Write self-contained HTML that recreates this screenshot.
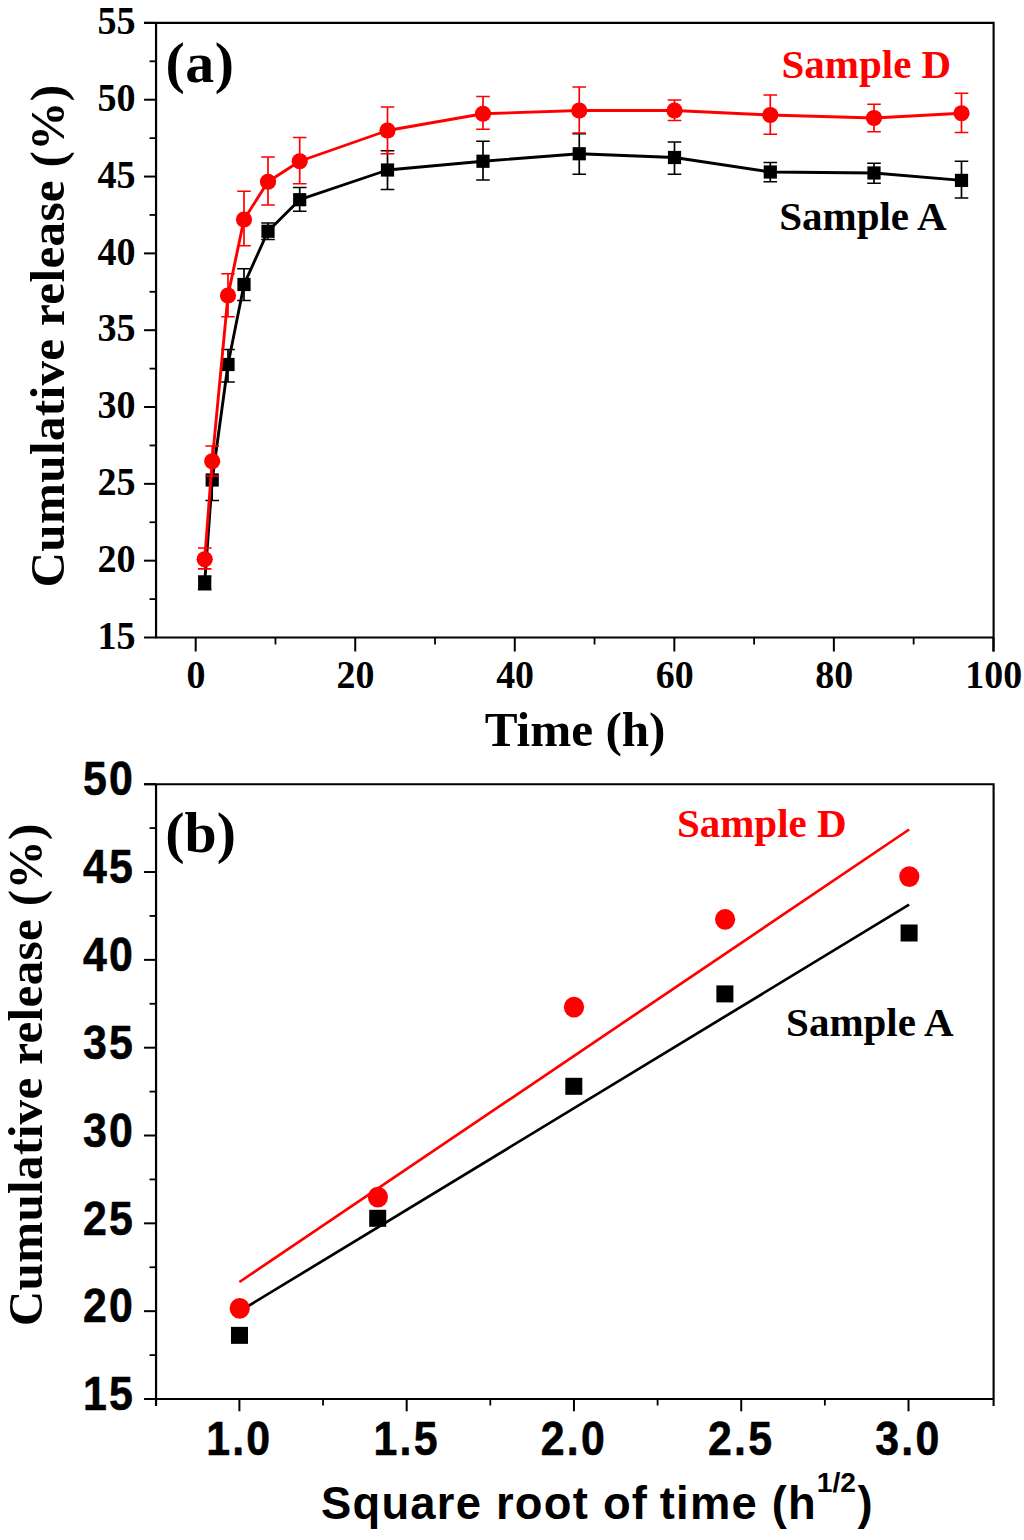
<!DOCTYPE html>
<html><head><meta charset="utf-8"><title>Cumulative release</title>
<style>
html,body{margin:0;padding:0;background:#fff;}
body{width:1024px;height:1540px;overflow:hidden;font-family:"Liberation Serif",serif;}
svg{display:block;}
</style></head><body>
<svg width="1024" height="1540" viewBox="0 0 1024 1540">
<rect width="1024" height="1540" fill="#fff"/>
<path d="M144.05,22.9 H993.6 V651.5" fill="none" stroke="#000" stroke-width="2.1"/>
<path d="M156.05,22.9 V637.5 H993.6" fill="none" stroke="#000" stroke-width="2.2"/>
<line x1="144.05" y1="637.50" x2="156.05" y2="637.50" stroke="#000" stroke-width="2"/>
<text transform="translate(135.60,648.70) scale(0.9700,1)" font-family="Liberation Serif" font-weight="bold" font-size="39.3" text-anchor="end" style="fill:#000">15</text>
<line x1="144.05" y1="560.67" x2="156.05" y2="560.67" stroke="#000" stroke-width="2"/>
<text transform="translate(135.60,571.88) scale(0.9700,1)" font-family="Liberation Serif" font-weight="bold" font-size="39.3" text-anchor="end" style="fill:#000">20</text>
<line x1="144.05" y1="483.85" x2="156.05" y2="483.85" stroke="#000" stroke-width="2"/>
<text transform="translate(135.60,495.05) scale(0.9700,1)" font-family="Liberation Serif" font-weight="bold" font-size="39.3" text-anchor="end" style="fill:#000">25</text>
<line x1="144.05" y1="407.02" x2="156.05" y2="407.02" stroke="#000" stroke-width="2"/>
<text transform="translate(135.60,418.22) scale(0.9700,1)" font-family="Liberation Serif" font-weight="bold" font-size="39.3" text-anchor="end" style="fill:#000">30</text>
<line x1="144.05" y1="330.20" x2="156.05" y2="330.20" stroke="#000" stroke-width="2"/>
<text transform="translate(135.60,341.40) scale(0.9700,1)" font-family="Liberation Serif" font-weight="bold" font-size="39.3" text-anchor="end" style="fill:#000">35</text>
<line x1="144.05" y1="253.38" x2="156.05" y2="253.38" stroke="#000" stroke-width="2"/>
<text transform="translate(135.60,264.57) scale(0.9700,1)" font-family="Liberation Serif" font-weight="bold" font-size="39.3" text-anchor="end" style="fill:#000">40</text>
<line x1="144.05" y1="176.55" x2="156.05" y2="176.55" stroke="#000" stroke-width="2"/>
<text transform="translate(135.60,187.75) scale(0.9700,1)" font-family="Liberation Serif" font-weight="bold" font-size="39.3" text-anchor="end" style="fill:#000">45</text>
<line x1="144.05" y1="99.72" x2="156.05" y2="99.72" stroke="#000" stroke-width="2"/>
<text transform="translate(135.60,110.92) scale(0.9700,1)" font-family="Liberation Serif" font-weight="bold" font-size="39.3" text-anchor="end" style="fill:#000">50</text>
<line x1="144.05" y1="22.90" x2="156.05" y2="22.90" stroke="#000" stroke-width="2"/>
<text transform="translate(135.60,34.10) scale(0.9700,1)" font-family="Liberation Serif" font-weight="bold" font-size="39.3" text-anchor="end" style="fill:#000">55</text>
<line x1="149.55" y1="599.09" x2="156.05" y2="599.09" stroke="#000" stroke-width="1.8"/>
<line x1="149.55" y1="522.26" x2="156.05" y2="522.26" stroke="#000" stroke-width="1.8"/>
<line x1="149.55" y1="445.44" x2="156.05" y2="445.44" stroke="#000" stroke-width="1.8"/>
<line x1="149.55" y1="368.61" x2="156.05" y2="368.61" stroke="#000" stroke-width="1.8"/>
<line x1="149.55" y1="291.79" x2="156.05" y2="291.79" stroke="#000" stroke-width="1.8"/>
<line x1="149.55" y1="214.96" x2="156.05" y2="214.96" stroke="#000" stroke-width="1.8"/>
<line x1="149.55" y1="138.14" x2="156.05" y2="138.14" stroke="#000" stroke-width="1.8"/>
<line x1="149.55" y1="61.31" x2="156.05" y2="61.31" stroke="#000" stroke-width="1.8"/>
<line x1="195.70" y1="637.5" x2="195.70" y2="651.5" stroke="#000" stroke-width="2"/>
<text transform="translate(196.00,688.30) scale(0.9650,1)" font-family="Liberation Serif" font-weight="bold" font-size="39.3" text-anchor="middle" style="fill:#000">0</text>
<line x1="355.24" y1="637.5" x2="355.24" y2="651.5" stroke="#000" stroke-width="2"/>
<text transform="translate(355.54,688.30) scale(0.9650,1)" font-family="Liberation Serif" font-weight="bold" font-size="39.3" text-anchor="middle" style="fill:#000">20</text>
<line x1="514.78" y1="637.5" x2="514.78" y2="651.5" stroke="#000" stroke-width="2"/>
<text transform="translate(515.08,688.30) scale(0.9650,1)" font-family="Liberation Serif" font-weight="bold" font-size="39.3" text-anchor="middle" style="fill:#000">40</text>
<line x1="674.32" y1="637.5" x2="674.32" y2="651.5" stroke="#000" stroke-width="2"/>
<text transform="translate(674.62,688.30) scale(0.9650,1)" font-family="Liberation Serif" font-weight="bold" font-size="39.3" text-anchor="middle" style="fill:#000">60</text>
<line x1="833.86" y1="637.5" x2="833.86" y2="651.5" stroke="#000" stroke-width="2"/>
<text transform="translate(834.16,688.30) scale(0.9650,1)" font-family="Liberation Serif" font-weight="bold" font-size="39.3" text-anchor="middle" style="fill:#000">80</text>
<line x1="993.40" y1="637.5" x2="993.40" y2="651.5" stroke="#000" stroke-width="2"/>
<text transform="translate(993.70,688.30) scale(0.9650,1)" font-family="Liberation Serif" font-weight="bold" font-size="39.3" text-anchor="middle" style="fill:#000">100</text>
<line x1="275.47" y1="637.5" x2="275.47" y2="644.5" stroke="#000" stroke-width="1.8"/>
<line x1="435.01" y1="637.5" x2="435.01" y2="644.5" stroke="#000" stroke-width="1.8"/>
<line x1="594.55" y1="637.5" x2="594.55" y2="644.5" stroke="#000" stroke-width="1.8"/>
<line x1="754.09" y1="637.5" x2="754.09" y2="644.5" stroke="#000" stroke-width="1.8"/>
<line x1="913.63" y1="637.5" x2="913.63" y2="644.5" stroke="#000" stroke-width="1.8"/>
<path d="M204.70,582.65 L212.20,480.00 L228.00,364.50 L244.00,284.50 L268.00,231.25 L299.70,199.70 L387.50,170.00 L483.00,161.25 L579.25,153.75 L674.50,157.50 L770.30,172.00 L874.00,173.00 L961.50,180.40" fill="none" stroke="#000" stroke-width="2.9" stroke-linejoin="round"/>
<path d="M204.70,576.00 V589.60 M197.90,576.00 h13.6 M197.90,589.60 h13.6" fill="none" stroke="#000" stroke-width="1.7"/>
<rect x="198.10" y="576.05" width="13.2" height="13.2" fill="#000"/>
<path d="M212.20,460.00 V500.50 M205.40,460.00 h13.6 M205.40,500.50 h13.6" fill="none" stroke="#000" stroke-width="1.7"/>
<rect x="205.60" y="473.40" width="13.2" height="13.2" fill="#000"/>
<path d="M228.00,349.50 V382.00 M221.20,349.50 h13.6 M221.20,382.00 h13.6" fill="none" stroke="#000" stroke-width="1.7"/>
<rect x="221.40" y="357.90" width="13.2" height="13.2" fill="#000"/>
<path d="M244.00,268.75 V300.50 M237.20,268.75 h13.6 M237.20,300.50 h13.6" fill="none" stroke="#000" stroke-width="1.7"/>
<rect x="237.40" y="277.90" width="13.2" height="13.2" fill="#000"/>
<path d="M268.00,223.00 V239.50 M261.20,223.00 h13.6 M261.20,239.50 h13.6" fill="none" stroke="#000" stroke-width="1.7"/>
<rect x="261.40" y="224.65" width="13.2" height="13.2" fill="#000"/>
<path d="M299.70,187.50 V211.25 M292.90,187.50 h13.6 M292.90,211.25 h13.6" fill="none" stroke="#000" stroke-width="1.7"/>
<rect x="293.10" y="193.10" width="13.2" height="13.2" fill="#000"/>
<path d="M387.50,150.75 V189.50 M380.70,150.75 h13.6 M380.70,189.50 h13.6" fill="none" stroke="#000" stroke-width="1.7"/>
<rect x="380.90" y="163.40" width="13.2" height="13.2" fill="#000"/>
<path d="M483.00,141.25 V180.00 M476.20,141.25 h13.6 M476.20,180.00 h13.6" fill="none" stroke="#000" stroke-width="1.7"/>
<rect x="476.40" y="154.65" width="13.2" height="13.2" fill="#000"/>
<path d="M579.25,133.75 V174.25 M572.45,133.75 h13.6 M572.45,174.25 h13.6" fill="none" stroke="#000" stroke-width="1.7"/>
<rect x="572.65" y="147.15" width="13.2" height="13.2" fill="#000"/>
<path d="M674.50,142.00 V174.25 M667.70,142.00 h13.6 M667.70,174.25 h13.6" fill="none" stroke="#000" stroke-width="1.7"/>
<rect x="667.90" y="150.90" width="13.2" height="13.2" fill="#000"/>
<path d="M770.30,162.50 V181.75 M763.50,162.50 h13.6 M763.50,181.75 h13.6" fill="none" stroke="#000" stroke-width="1.7"/>
<rect x="763.70" y="165.40" width="13.2" height="13.2" fill="#000"/>
<path d="M874.00,163.25 V183.25 M867.20,163.25 h13.6 M867.20,183.25 h13.6" fill="none" stroke="#000" stroke-width="1.7"/>
<rect x="867.40" y="166.40" width="13.2" height="13.2" fill="#000"/>
<path d="M961.50,161.25 V198.00 M954.70,161.25 h13.6 M954.70,198.00 h13.6" fill="none" stroke="#000" stroke-width="1.7"/>
<rect x="954.90" y="173.80" width="13.2" height="13.2" fill="#000"/>
<path d="M204.70,559.30 L212.20,461.30 L228.00,295.50 L244.00,219.50 L268.00,181.75 L299.70,161.25 L387.50,130.50 L483.00,113.75 L579.25,110.50 L674.50,110.50 L770.30,115.00 L874.00,118.00 L961.50,113.25" fill="none" stroke="#ff0000" stroke-width="2.9" stroke-linejoin="round"/>
<path d="M204.70,548.00 V568.90 M197.90,548.00 h13.6 M197.90,568.90 h13.6" fill="none" stroke="#ff0000" stroke-width="1.7"/>
<circle cx="204.70" cy="559.30" r="8.1" fill="#ff0000"/>
<path d="M212.20,446.00 V476.00 M205.40,446.00 h13.6 M205.40,476.00 h13.6" fill="none" stroke="#ff0000" stroke-width="1.7"/>
<circle cx="212.20" cy="461.30" r="8.1" fill="#ff0000"/>
<path d="M228.00,273.75 V316.75 M221.20,273.75 h13.6 M221.20,316.75 h13.6" fill="none" stroke="#ff0000" stroke-width="1.7"/>
<circle cx="228.00" cy="295.50" r="8.1" fill="#ff0000"/>
<path d="M244.00,191.25 V245.75 M237.20,191.25 h13.6 M237.20,245.75 h13.6" fill="none" stroke="#ff0000" stroke-width="1.7"/>
<circle cx="244.00" cy="219.50" r="8.1" fill="#ff0000"/>
<path d="M268.00,157.00 V205.00 M261.20,157.00 h13.6 M261.20,205.00 h13.6" fill="none" stroke="#ff0000" stroke-width="1.7"/>
<circle cx="268.00" cy="181.75" r="8.1" fill="#ff0000"/>
<path d="M299.70,137.50 V183.75 M292.90,137.50 h13.6 M292.90,183.75 h13.6" fill="none" stroke="#ff0000" stroke-width="1.7"/>
<circle cx="299.70" cy="161.25" r="8.1" fill="#ff0000"/>
<path d="M387.50,107.00 V153.75 M380.70,107.00 h13.6 M380.70,153.75 h13.6" fill="none" stroke="#ff0000" stroke-width="1.7"/>
<circle cx="387.50" cy="130.50" r="8.1" fill="#ff0000"/>
<path d="M483.00,96.50 V129.25 M476.20,96.50 h13.6 M476.20,129.25 h13.6" fill="none" stroke="#ff0000" stroke-width="1.7"/>
<circle cx="483.00" cy="113.75" r="8.1" fill="#ff0000"/>
<path d="M579.25,87.00 V133.00 M572.45,87.00 h13.6 M572.45,133.00 h13.6" fill="none" stroke="#ff0000" stroke-width="1.7"/>
<circle cx="579.25" cy="110.50" r="8.1" fill="#ff0000"/>
<path d="M674.50,100.00 V120.50 M667.70,100.00 h13.6 M667.70,120.50 h13.6" fill="none" stroke="#ff0000" stroke-width="1.7"/>
<circle cx="674.50" cy="110.50" r="8.1" fill="#ff0000"/>
<path d="M770.30,95.00 V134.25 M763.50,95.00 h13.6 M763.50,134.25 h13.6" fill="none" stroke="#ff0000" stroke-width="1.7"/>
<circle cx="770.30" cy="115.00" r="8.1" fill="#ff0000"/>
<path d="M874.00,104.25 V131.75 M867.20,104.25 h13.6 M867.20,131.75 h13.6" fill="none" stroke="#ff0000" stroke-width="1.7"/>
<circle cx="874.00" cy="118.00" r="8.1" fill="#ff0000"/>
<path d="M961.50,93.25 V132.50 M954.70,93.25 h13.6 M954.70,132.50 h13.6" fill="none" stroke="#ff0000" stroke-width="1.7"/>
<circle cx="961.50" cy="113.25" r="8.1" fill="#ff0000"/>
<text transform="translate(165.60,81.60)" font-family="Liberation Serif" font-weight="bold" font-size="57.8" text-anchor="start" letter-spacing="0.500" style="fill:#000">(a)</text>
<text transform="translate(781.50,78.00)" font-family="Liberation Serif" font-weight="bold" font-size="41.0" text-anchor="start" style="fill:#ff0000">Sample D</text>
<text transform="translate(779.20,230.00)" font-family="Liberation Serif" font-weight="bold" font-size="41.0" text-anchor="start" style="fill:#000">Sample A</text>
<text transform="translate(575.10,745.70)" font-family="Liberation Serif" font-weight="bold" font-size="49.2" text-anchor="middle" style="fill:#000">Time (h)</text>
<text transform="translate(63.60,336.20) rotate(-90)" font-family="Liberation Serif" font-weight="bold" font-size="49.2" text-anchor="middle" letter-spacing="0.300" dx="0.150" style="fill:#000">Cumulative release (%)</text>
<path d="M144.05,784.2 H993.6 V1406.0" fill="none" stroke="#000" stroke-width="2.1"/>
<path d="M156.05,784.2 V1406.0 M156.05,1399.0 H993.6" fill="none" stroke="#000" stroke-width="2.2"/>
<line x1="144.05" y1="1399.00" x2="156.05" y2="1399.00" stroke="#000" stroke-width="2"/>
<text transform="translate(132.80,1410.20) scale(0.8850,1)" font-family="Liberation Sans" font-weight="bold" font-size="48.4" text-anchor="end" letter-spacing="2.486" dx="2.486" style="fill:#000" stroke="#000" stroke-width="0.6" stroke-linejoin="round">15</text>
<line x1="144.05" y1="1311.17" x2="156.05" y2="1311.17" stroke="#000" stroke-width="2"/>
<text transform="translate(132.80,1322.37) scale(0.8850,1)" font-family="Liberation Sans" font-weight="bold" font-size="48.4" text-anchor="end" letter-spacing="2.486" dx="2.486" style="fill:#000" stroke="#000" stroke-width="0.6" stroke-linejoin="round">20</text>
<line x1="144.05" y1="1223.34" x2="156.05" y2="1223.34" stroke="#000" stroke-width="2"/>
<text transform="translate(132.80,1234.54) scale(0.8850,1)" font-family="Liberation Sans" font-weight="bold" font-size="48.4" text-anchor="end" letter-spacing="2.486" dx="2.486" style="fill:#000" stroke="#000" stroke-width="0.6" stroke-linejoin="round">25</text>
<line x1="144.05" y1="1135.51" x2="156.05" y2="1135.51" stroke="#000" stroke-width="2"/>
<text transform="translate(132.80,1146.71) scale(0.8850,1)" font-family="Liberation Sans" font-weight="bold" font-size="48.4" text-anchor="end" letter-spacing="2.486" dx="2.486" style="fill:#000" stroke="#000" stroke-width="0.6" stroke-linejoin="round">30</text>
<line x1="144.05" y1="1047.69" x2="156.05" y2="1047.69" stroke="#000" stroke-width="2"/>
<text transform="translate(132.80,1058.89) scale(0.8850,1)" font-family="Liberation Sans" font-weight="bold" font-size="48.4" text-anchor="end" letter-spacing="2.486" dx="2.486" style="fill:#000" stroke="#000" stroke-width="0.6" stroke-linejoin="round">35</text>
<line x1="144.05" y1="959.86" x2="156.05" y2="959.86" stroke="#000" stroke-width="2"/>
<text transform="translate(132.80,971.06) scale(0.8850,1)" font-family="Liberation Sans" font-weight="bold" font-size="48.4" text-anchor="end" letter-spacing="2.486" dx="2.486" style="fill:#000" stroke="#000" stroke-width="0.6" stroke-linejoin="round">40</text>
<line x1="144.05" y1="872.03" x2="156.05" y2="872.03" stroke="#000" stroke-width="2"/>
<text transform="translate(132.80,883.23) scale(0.8850,1)" font-family="Liberation Sans" font-weight="bold" font-size="48.4" text-anchor="end" letter-spacing="2.486" dx="2.486" style="fill:#000" stroke="#000" stroke-width="0.6" stroke-linejoin="round">45</text>
<line x1="144.05" y1="784.20" x2="156.05" y2="784.20" stroke="#000" stroke-width="2"/>
<text transform="translate(132.80,795.40) scale(0.8850,1)" font-family="Liberation Sans" font-weight="bold" font-size="48.4" text-anchor="end" letter-spacing="2.486" dx="2.486" style="fill:#000" stroke="#000" stroke-width="0.6" stroke-linejoin="round">50</text>
<line x1="149.55" y1="1355.09" x2="156.05" y2="1355.09" stroke="#000" stroke-width="1.8"/>
<line x1="149.55" y1="1267.26" x2="156.05" y2="1267.26" stroke="#000" stroke-width="1.8"/>
<line x1="149.55" y1="1179.43" x2="156.05" y2="1179.43" stroke="#000" stroke-width="1.8"/>
<line x1="149.55" y1="1091.60" x2="156.05" y2="1091.60" stroke="#000" stroke-width="1.8"/>
<line x1="149.55" y1="1003.77" x2="156.05" y2="1003.77" stroke="#000" stroke-width="1.8"/>
<line x1="149.55" y1="915.94" x2="156.05" y2="915.94" stroke="#000" stroke-width="1.8"/>
<line x1="149.55" y1="828.11" x2="156.05" y2="828.11" stroke="#000" stroke-width="1.8"/>
<line x1="239.40" y1="1399.0" x2="239.40" y2="1411.3" stroke="#000" stroke-width="2"/>
<text transform="translate(238.20,1455.00) scale(0.8850,1)" font-family="Liberation Sans" font-weight="bold" font-size="48.4" text-anchor="middle" letter-spacing="2.486" dx="1.243" style="fill:#000" stroke="#000" stroke-width="0.6" stroke-linejoin="round">1.0</text>
<line x1="406.68" y1="1399.0" x2="406.68" y2="1411.3" stroke="#000" stroke-width="2"/>
<text transform="translate(405.48,1455.00) scale(0.8850,1)" font-family="Liberation Sans" font-weight="bold" font-size="48.4" text-anchor="middle" letter-spacing="2.486" dx="1.243" style="fill:#000" stroke="#000" stroke-width="0.6" stroke-linejoin="round">1.5</text>
<line x1="573.95" y1="1399.0" x2="573.95" y2="1411.3" stroke="#000" stroke-width="2"/>
<text transform="translate(572.75,1455.00) scale(0.8850,1)" font-family="Liberation Sans" font-weight="bold" font-size="48.4" text-anchor="middle" letter-spacing="2.486" dx="1.243" style="fill:#000" stroke="#000" stroke-width="0.6" stroke-linejoin="round">2.0</text>
<line x1="741.23" y1="1399.0" x2="741.23" y2="1411.3" stroke="#000" stroke-width="2"/>
<text transform="translate(740.02,1455.00) scale(0.8850,1)" font-family="Liberation Sans" font-weight="bold" font-size="48.4" text-anchor="middle" letter-spacing="2.486" dx="1.243" style="fill:#000" stroke="#000" stroke-width="0.6" stroke-linejoin="round">2.5</text>
<line x1="908.50" y1="1399.0" x2="908.50" y2="1411.3" stroke="#000" stroke-width="2"/>
<text transform="translate(907.30,1455.00) scale(0.8850,1)" font-family="Liberation Sans" font-weight="bold" font-size="48.4" text-anchor="middle" letter-spacing="2.486" dx="1.243" style="fill:#000" stroke="#000" stroke-width="0.6" stroke-linejoin="round">3.0</text>
<line x1="323.04" y1="1399.0" x2="323.04" y2="1405.5" stroke="#000" stroke-width="1.8"/>
<line x1="490.31" y1="1399.0" x2="490.31" y2="1405.5" stroke="#000" stroke-width="1.8"/>
<line x1="657.59" y1="1399.0" x2="657.59" y2="1405.5" stroke="#000" stroke-width="1.8"/>
<line x1="824.86" y1="1399.0" x2="824.86" y2="1405.5" stroke="#000" stroke-width="1.8"/>
<line x1="239.4" y1="1311.4" x2="909.1" y2="904.7" stroke="#000" stroke-width="2.7"/>
<line x1="239.4" y1="1282.0" x2="909.1" y2="829.5" stroke="#ff0000" stroke-width="2.7"/>
<rect x="231.00" y="1326.85" width="17.0" height="17.0" fill="#000"/>
<ellipse cx="239.70" cy="1308.40" rx="10.1" ry="10.4" fill="#ff0000"/>
<rect x="369.20" y="1209.80" width="17.0" height="17.0" fill="#000"/>
<ellipse cx="377.90" cy="1197.10" rx="10.1" ry="10.4" fill="#ff0000"/>
<rect x="565.30" y="1077.80" width="17.0" height="17.0" fill="#000"/>
<ellipse cx="574.00" cy="1007.20" rx="10.1" ry="10.4" fill="#ff0000"/>
<rect x="716.40" y="985.40" width="17.0" height="17.0" fill="#000"/>
<ellipse cx="725.10" cy="919.30" rx="10.1" ry="10.4" fill="#ff0000"/>
<rect x="900.60" y="924.50" width="17.0" height="17.0" fill="#000"/>
<ellipse cx="909.30" cy="876.60" rx="10.1" ry="10.4" fill="#ff0000"/>
<text transform="translate(165.30,851.50)" font-family="Liberation Serif" font-weight="bold" font-size="57.8" text-anchor="start" style="fill:#000">(b)</text>
<text transform="translate(676.90,837.30)" font-family="Liberation Serif" font-weight="bold" font-size="41.0" text-anchor="start" style="fill:#ff0000">Sample D</text>
<text transform="translate(786.10,1035.80)" font-family="Liberation Serif" font-weight="bold" font-size="41.0" text-anchor="start" style="fill:#000">Sample A</text>
<text transform="translate(42.00,1075.00) rotate(-90)" font-family="Liberation Serif" font-weight="bold" font-size="49.2" text-anchor="middle" letter-spacing="0.300" dx="0.150" style="fill:#000">Cumulative release (%)</text>
<text transform="translate(321.00,1518.60) scale(0.9750,1)" font-family="Liberation Sans" font-weight="bold" font-size="46.5" text-anchor="start" letter-spacing="1.282" style="fill:#000">Square root of <tspan dx="-2.4">time (h</tspan></text>
<text transform="translate(816.70,1491.90)" font-family="Liberation Sans" font-weight="bold" font-size="28.2" text-anchor="start" style="fill:#000">1/2</text>
<text transform="translate(857.40,1518.60) scale(0.9750,1)" font-family="Liberation Sans" font-weight="bold" font-size="46.5" text-anchor="start" style="fill:#000">)</text>
</svg>
</body></html>
